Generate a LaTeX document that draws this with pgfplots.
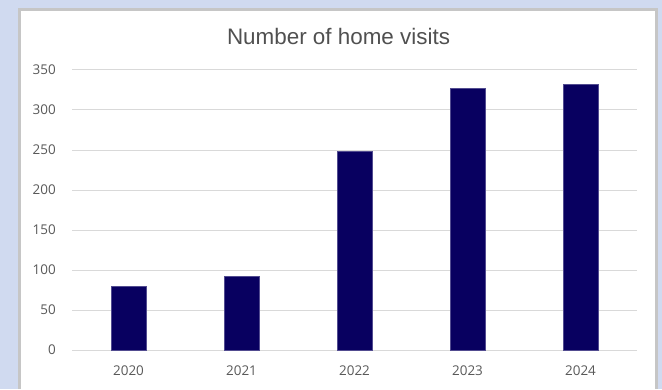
\documentclass[border=0pt]{standalone}
\usepackage{pgfplots}
\pgfplotsset{compat=1.18}
\usepackage{fontspec}
\setmainfont{Liberation Sans}
\newfontfamily\tickfont{Open Sans}
\definecolor{bgl}{HTML}{D0DAF0}
\definecolor{brd}{HTML}{C6C6C6}
\definecolor{grd}{HTML}{D9D9D9}
\definecolor{txt}{HTML}{595959}
\definecolor{bar}{HTML}{080060}
\pgfplotstableread{
x val
0 80
1 92
2 248
3 327
4 332
}\visits
\begin{document}
\begin{tikzpicture}[x=1bp,y=1bp]
\fill[bgl] (0,0) rectangle (662,389);
\fill[white] (20,0) rectangle (656,379);
\draw[brd, line width=2.5bp] (19.7,0) -- (19.7,379.3) -- (656.3,379.3) -- (656.3,0);
\node[anchor=base, font=\fontsize{22.5}{26}\selectfont, text=txt!90!black, inner sep=0pt] at (338.5,345) {Number of home visits};
\begin{axis}[
  at={(72bp,39bp)}, anchor=south west,
  scale only axis, width=565bp, height=280bp,
  xmin=-0.5, xmax=4.5, ymin=0, ymax=350,
  axis line style={draw=none},
  major tick length=0pt,
  ytick={0,50,...,350},
  xtick={0,1,2,3,4},
  xticklabels={2020,2021,2022,2023,2024},
  ymajorgrids, major grid style={grd, line width=1bp},
  /pgf/number format/assume math mode=true,
  yticklabel style={font=\tickfont\fontsize{13.5}{16}\selectfont, text=txt, inner sep=0pt, anchor=east, xshift=-16bp},
  xticklabel style={font=\tickfont\fontsize{13.5}{16}\selectfont, text=txt, inner sep=0pt, anchor=base, yshift=-25bp},
  clip=false,
]
\addplot[ybar, bar width=35bp, fill=bar, draw=bar!70!white, line width=0.5bp] table[x=x, y=val] {\visits};
\end{axis}
\pgfresetboundingbox
\useasboundingbox (0,0) rectangle (662,389);
\end{tikzpicture}
\end{document}
